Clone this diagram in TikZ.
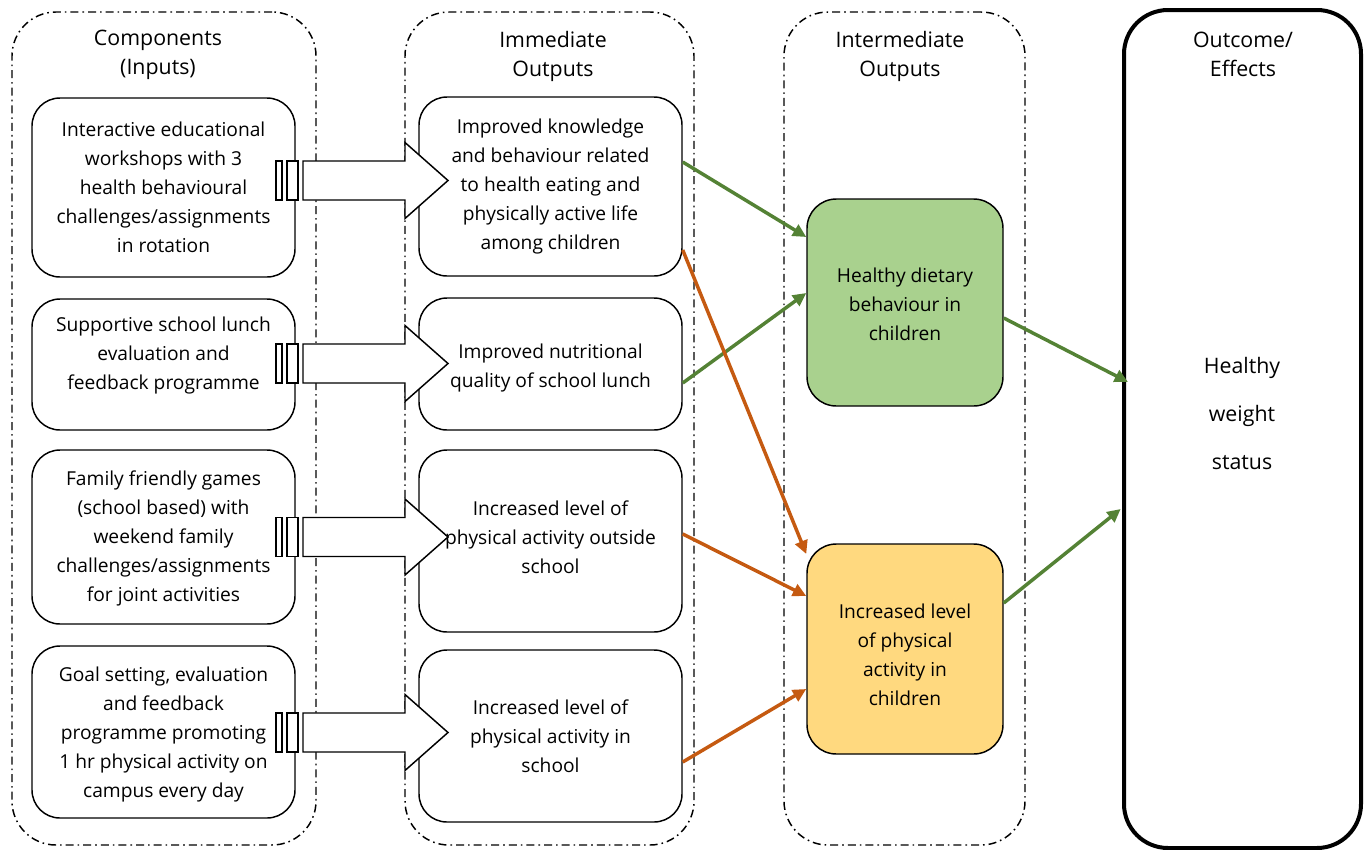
\documentclass[tikz,border=0pt]{standalone}
\usepackage{fontspec}
\setmainfont{Open Sans}
\usetikzlibrary{arrows.meta}
\definecolor{gfill}{HTML}{A9D18E}
\definecolor{yfill}{HTML}{FFD97F}
\definecolor{garrow}{HTML}{548235}
\definecolor{oarrow}{HTML}{C55A11}
\tikzset{
  cont/.style={draw, line width=1.1pt, dash pattern=on 6pt off 3pt on 1.2pt off 3pt, rounded corners=33pt, inner sep=0pt, minimum height=624.75pt},
  outbox/.style={draw, line width=3pt, rounded corners=33pt, inner sep=0pt},
  ibox/.style={draw, line width=1.1pt, rounded corners=21pt, fill=white, inner sep=0pt, minimum width=197.25pt},
  ebox/.style={draw, line width=1.1pt, rounded corners=22pt, inner sep=0pt, minimum width=147pt},
  btxt/.style={align=center, inner sep=0pt, font=\fontsize{14.4pt}{21.75pt}\selectfont},
  htxt/.style={align=center, inner sep=0pt, font=\fontsize{16pt}{21.75pt}\selectfont},
  otxt/.style={align=center, inner sep=0pt, font=\fontsize{16pt}{36pt}\selectfont},
  barrow/.style={draw, fill=white, line width=1.1pt},
  garr/.style={draw=garrow, line width=2.6pt, -{Triangle[length=10pt,width=9.5pt]}},
  oarr/.style={draw=oarrow, line width=2.6pt, -{Triangle[length=10pt,width=9.5pt]}}
}
\begin{document}
\begin{tikzpicture}[x=0.75pt,y=-0.75pt]
\useasboundingbox (0,0) rectangle (1368,850);
% containers
\node[cont, minimum width=228pt] (c1) at (164,428.5) {};
\node[cont, minimum width=216.75pt] (c2) at (549.5,428.5) {};
\node[cont, minimum width=180.75pt] (c3) at (904.5,428.5) {};
\node[outbox, minimum width=177.75pt, minimum height=628.5pt] (c4) at (1242.5,429) {};
% headers
\node[htxt] (h1) at (158,54.5) {Components\\(Inputs)};
\node[htxt] (h2) at (553,56.5) {Immediate\\Outputs};
\node[htxt] (h3) at (900,56.5) {Intermediate\\Outputs};
\node[htxt] (h4) at (1243,54) {Outcome/\\Effects};
% input boxes
\node[ibox, minimum height=134.25pt] (i1) at (163.5,187.5) {};
\node[btxt] (i1t) at (163.5,187) {Interactive educational\\workshops with 3\\health behavioural\\challenges/assignments\\in rotation};
\node[ibox, minimum height=98.25pt] (i2) at (163.5,364.5) {};
\node[btxt] (i2t) at (163.5,356) {Supportive school lunch\\evaluation and\\feedback programme};
\node[ibox, minimum height=130.5pt] (i3) at (163.5,537) {};
\node[btxt] (i3t) at (163.5,538.5) {Family friendly games\\(school based) with\\weekend family\\challenges/assignments\\for joint activities};
\node[ibox, minimum height=129pt] (i4) at (163.5,732) {};
\node[btxt] (i4t) at (163.5,735) {Goal setting, evaluation\\and feedback\\programme promoting\\1 hr physical activity on\\campus every day};
% output boxes
\node[ibox, minimum height=134.25pt] (o1) at (550.5,186.5) {};
\node[btxt] (o1t) at (550.5,187) {Improved knowledge\\and behaviour related\\to health eating and\\physically active life\\among children};
\node[ibox, minimum height=99pt] (o2) at (550.5,364) {};
\node[btxt] (o2t) at (550.5,368) {Improved nutritional\\quality of school lunch};
\node[ibox, minimum height=136.5pt] (o3) at (550.5,541) {};
\node[btxt] (o3t) at (550.5,537.5) {Increased level of\\physical activity outside\\school};
\node[ibox, minimum height=129pt] (o4) at (550.5,736) {};
\node[btxt] (o4t) at (550.5,736) {Increased level of\\physical activity in\\school};
% intermediate boxes
\node[ebox, fill=gfill, minimum height=155.25pt] (e1) at (905,302.5) {};
\node[btxt] (e1t) at (905,304.5) {Healthy dietary\\behaviour in\\children};
\node[ebox, fill=yfill, minimum height=157.5pt] (e2) at (905,649) {};
\node[btxt] (e2t) at (905,655) {Increased level\\of physical\\activity in\\children};
% outcome text
\node[otxt] (ot) at (1242,413) {Healthy\\weight\\status};
% block arrows
\foreach \cy in {180.5,363.5,537,732.5}{
  \draw[barrow] (276,\cy-19.5) rectangle (282,\cy+19.5);
  \draw[barrow] (287,\cy-19.5) rectangle (298,\cy+19.5);
  \draw[barrow] (303,\cy-19.5) -- (405,\cy-19.5) -- (405,\cy-38) -- (448,\cy) -- (405,\cy+38) -- (405,\cy+19.5) -- (303,\cy+19.5) -- cycle;
}
% connectors
\draw[garr] (o1.east |- 0,162) -- (e1.west |- 0,237);
\draw[garr] (o2.east |- 0,383) -- (e1.west |- 0,293);
\draw[oarr] (o1.east |- 0,250) -- (e2.west |- 0,554);
\draw[oarr] (o3.east |- 0,534) -- (e2.west |- 0,596);
\draw[oarr] (o4.east |- 0,762) -- (e2.west |- 0,689);
\draw[garr] (e1.east |- 0,318) -- ([xshift=4.5pt]c4.west |- 0,382);
\draw[garr] (e2.east |- 0,603) -- ([xshift=-1pt]c4.west |- 0,509);
\end{tikzpicture}
\end{document}
